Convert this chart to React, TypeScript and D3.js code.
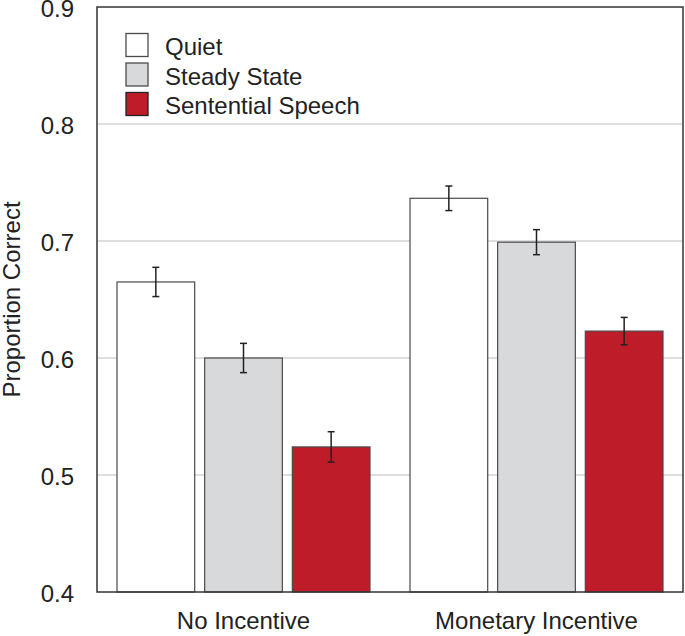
import React from "react";
import * as d3 from "d3";

const groups = ["No Incentive", "Monetary Incentive"];
const series = ["Quiet", "Steady State", "Sentential Speech"];
const seriesColors = ["#ffffff", "#d8d9db", "#be1c29"];
const values = [
  [0.665, 0.6, 0.524],
  [0.7365, 0.699, 0.623],
];
const errors = [
  [0.0125, 0.0125, 0.013],
  [0.0105, 0.0107, 0.0117],
];
const yTicks = [0.4, 0.5, 0.6, 0.7, 0.8, 0.9];

const W = 685;
const H = 636;
const left = 97;
const right = 683;
const top = 7;
const bottom = 592;

export default function App() {
  const y = d3.scaleLinear().domain([0.4, 0.9]).range([bottom, top]);
  const x0 = d3.scaleBand<string>().domain(groups).range([left, right]).padding(0);
  const x1 = d3
    .scaleBand<string>()
    .domain(series)
    .range([20, x0.bandwidth() - 20])
    .paddingInner(0.1136)
    .paddingOuter(0);
  const font = "'Liberation Sans', Arial, Helvetica, sans-serif";
  return (
    <svg
      width={W}
      height={H}
      style={{ position: "absolute", left: 0, top: 0, background: "#fff" }}
      fontFamily={font}
    >
      {yTicks.slice(1, -1).map((t) => (
        <line key={t} x1={left} x2={right} y1={y(t)} y2={y(t)} stroke="#bdbdbd" strokeWidth={1.2} />
      ))}
      {groups.map((g, gi) => (
        <g key={g} transform={`translate(${x0(g)},0)`}>
          {series.map((s, si) => {
            const v = values[gi][si];
            const e = errors[gi][si];
            const bx = x1(s)!;
            const bw = x1.bandwidth();
            const cx = bx + bw / 2;
            return (
              <g key={s}>
                <rect
                  x={bx}
                  y={y(v)}
                  width={bw}
                  height={bottom - y(v)}
                  fill={seriesColors[si]}
                  stroke="#4a4a4a"
                  strokeWidth={1.2}
                />
                <line x1={cx} x2={cx} y1={y(v + e)} y2={y(v - e)} stroke="#222" strokeWidth={1.5} />
                <line x1={cx - 3.5} x2={cx + 3.5} y1={y(v + e)} y2={y(v + e)} stroke="#222" strokeWidth={1.5} />
                <line x1={cx - 3.5} x2={cx + 3.5} y1={y(v - e)} y2={y(v - e)} stroke="#222" strokeWidth={1.5} />
              </g>
            );
          })}
          <text
            x={x0.bandwidth() / 2}
            y={629}
            textAnchor="middle"
            fontSize={24}
            fill="#222"
          >
            {g}
          </text>
        </g>
      ))}
      <rect x={left} y={top} width={right - left} height={bottom - top} fill="none" stroke="#333" strokeWidth={1.5} />
      {yTicks.map((t) => (
        <text key={t} x={74} y={y(t) + 10} textAnchor="end" fontSize={24} fill="#222">
          {t.toFixed(1)}
        </text>
      ))}
      <text
        transform={`translate(20,${(top + bottom) / 2}) rotate(-90)`}
        textAnchor="middle"
        fontSize={24}
        fill="#222"
      >
        Proportion Correct
      </text>
      {series.map((s, si) => (
        <g key={s} transform={`translate(126,${33.5 + si * 29.5})`}>
          <rect
            x={0}
            y={0}
            width={22}
            height={23}
            fill={seriesColors[si]}
            stroke={si === 2 ? "#222" : "#4a4a4a"}
            strokeWidth={1.3}
          />
          <text x={39} y={21.5} fontSize={24} fill="#222">
            {s}
          </text>
        </g>
      ))}
    </svg>
  );
}
